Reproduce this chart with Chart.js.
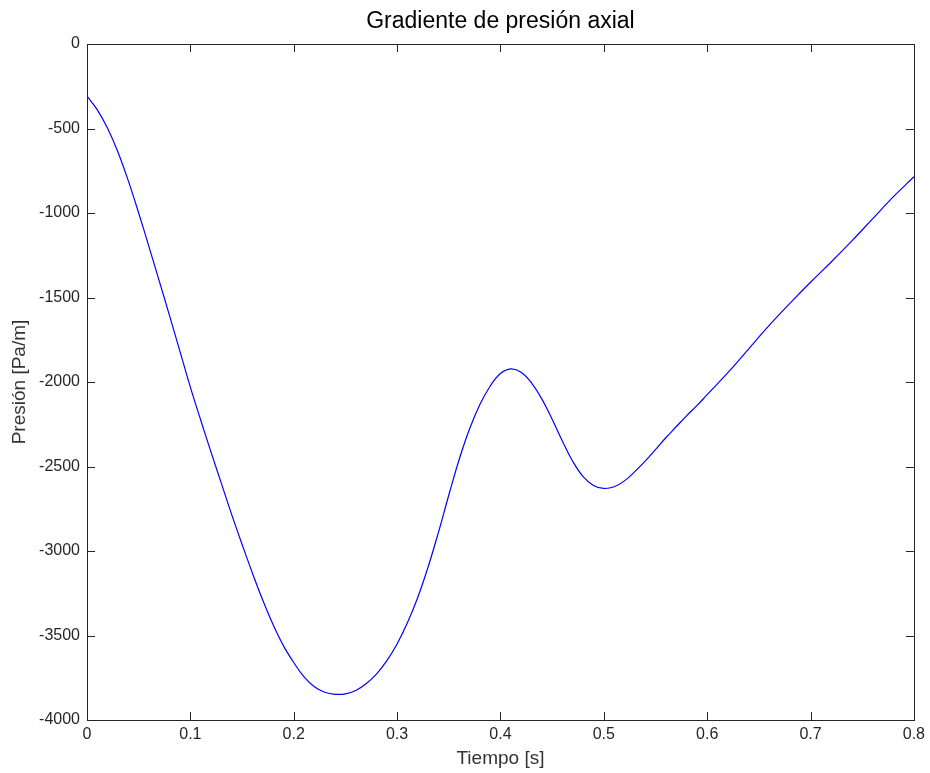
<!DOCTYPE html>
<html>
<head>
<meta charset="utf-8">
<title>Gradiente de presión axial</title>
<script src="https://cdn.jsdelivr.net/npm/chart.js@4"></script>
<style>
  html, body { margin: 0; padding: 0; background: #fff; }
  canvas { display: block; }
</style>
</head>
<body>
<canvas id="presionChart" width="930" height="773"></canvas>
<script>
// Tiempo [s] y gradiente de presión [Pa/m]
const tiempo = [
  0.00, 0.01, 0.02, 0.03, 0.04, 0.05, 0.06, 0.07, 0.08, 0.09,
  0.10, 0.11, 0.12, 0.13, 0.14, 0.15, 0.16, 0.17, 0.18, 0.19,
  0.20, 0.21, 0.22, 0.23, 0.24, 0.25, 0.26, 0.27, 0.28, 0.29,
  0.30, 0.31, 0.32, 0.33, 0.34, 0.35, 0.36, 0.37, 0.38, 0.39,
  0.40, 0.41, 0.42, 0.43, 0.44, 0.45, 0.46, 0.47, 0.48, 0.49,
  0.50, 0.51, 0.52, 0.53, 0.54, 0.55, 0.56, 0.57, 0.58, 0.59,
  0.60, 0.62, 0.64, 0.66, 0.68, 0.70, 0.72, 0.74, 0.76, 0.78,
  0.80
];
const presion = [
  -308, -390, -500, -640, -810, -1000, -1200, -1405, -1610, -1820,
  -2030, -2225, -2415, -2600, -2785, -2960, -3130, -3290, -3435, -3560,
  -3660, -3745, -3803, -3836, -3848, -3845, -3825, -3785, -3728, -3650,
  -3550, -3425, -3275, -3095, -2890, -2670, -2460, -2280, -2135, -2025,
  -1950, -1922, -1942, -2005, -2100, -2220, -2350, -2470, -2560, -2612,
  -2630, -2620, -2585, -2530, -2468, -2400, -2330, -2265, -2200, -2140,
  -2075, -1945, -1805, -1665, -1535, -1410, -1290, -1165, -1035, -905,
  -785
];

// Límites y pasos de los ejes
const ejeX = { min: 0, max: 0.8, paso: 0.1 };
const ejeY = { min: -4000, max: 0, paso: 500 };

const puntos = tiempo.map((t, i) => ({ x: t, y: presion[i] }));

const FUENTE = "Arial, 'Liberation Sans', Helvetica, sans-serif";
const COLOR_EJE = '#262626';

// Caja alrededor del área y marcas hacia dentro en los cuatro lados
const ejesCaja = {
  id: 'ejesCaja',
  afterDatasetsDraw(chart) {
    const { ctx, chartArea: a, scales } = chart;
    const largo = 8;
    ctx.save();
    ctx.strokeStyle = COLOR_EJE;
    ctx.lineWidth = 1;
    ctx.beginPath();
    scales.x.ticks.forEach(t => {
      const px = Math.round(scales.x.getPixelForValue(t.value)) + 0.5;
      ctx.moveTo(px, a.bottom); ctx.lineTo(px, a.bottom - largo);
      ctx.moveTo(px, a.top); ctx.lineTo(px, a.top + largo);
    });
    scales.y.ticks.forEach(t => {
      const py = Math.round(scales.y.getPixelForValue(t.value)) + 0.5;
      ctx.moveTo(a.left, py); ctx.lineTo(a.left + largo, py);
      ctx.moveTo(a.right, py); ctx.lineTo(a.right - largo, py);
    });
    ctx.stroke();
    ctx.strokeRect(Math.round(a.left) + 0.5, Math.round(a.top) + 0.5,
                   Math.round(a.width), Math.round(a.height));
    ctx.restore();
  }
};

const ctx = document.getElementById('presionChart').getContext('2d');
const presionChart = new Chart(ctx, {
  type: 'line',
  data: {
    datasets: [{
      label: 'Presión',
      data: puntos,
      borderColor: '#0000ff',
      borderWidth: 1.2,
      pointRadius: 0,
      fill: false,
      tension: 0.4
    }]
  },
  options: {
    responsive: false,
    animation: false,
    layout: { padding: { left: 0, top: 0, right: 13, bottom: 0 } },
    plugins: {
      legend: { display: false },
      tooltip: { enabled: false },
      title: {
        display: true,
        fullSize: false,
        text: 'Gradiente de presión axial',
        color: '#000',
        font: { family: FUENTE, size: 23, weight: 'normal', lineHeight: 1.2 },
        padding: { top: 8, bottom: 8.4 }
      }
    },
    scales: {
      x: {
        type: 'linear',
        min: ejeX.min,
        max: ejeX.max,
        grid: { display: false, drawTicks: false },
        border: { display: false },
        ticks: {
          stepSize: ejeX.paso,
          padding: 5,
          color: COLOR_EJE,
          font: { family: FUENTE, size: 16 },
          maxRotation: 0,
          callback: v => String(Math.round(v * 10) / 10)
        },
        title: {
          display: true,
          text: 'Tiempo [s]',
          color: '#333',
          font: { family: FUENTE, size: 19, lineHeight: 1.2 },
          padding: { top: 0, bottom: 3 }
        },
        afterFit: s => { s.height = 53; }
      },
      y: {
        type: 'linear',
        min: ejeY.min,
        max: ejeY.max,
        grid: { display: false, drawTicks: false },
        border: { display: false },
        ticks: {
          stepSize: ejeY.paso,
          padding: 7,
          color: COLOR_EJE,
          font: { family: FUENTE, size: 16 },
          callback: v => String(Math.round(v))
        },
        title: {
          display: true,
          text: 'Presión [Pa/m]',
          color: '#333',
          font: { family: FUENTE, size: 19, lineHeight: 1.2 },
          padding: { top: 8, bottom: 0 }
        },
        afterFit: s => { s.width = 87; }
      }
    }
  },
  plugins: [ejesCaja]
});
</script>
</body>
</html>
